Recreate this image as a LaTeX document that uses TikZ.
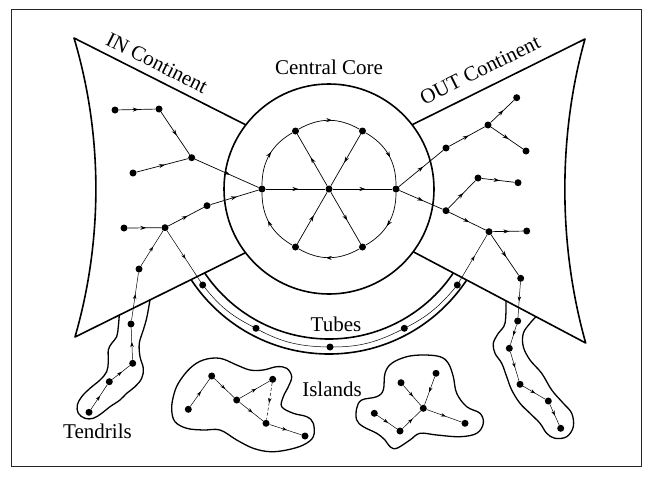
\documentclass[tikz,border=0pt]{standalone}
\usepackage{fontspec}
\setmainfont{Liberation Serif}
\usetikzlibrary{arrows.meta,decorations.markings}
\tikzset{
  dot/.style={circle, fill=black, inner sep=0pt, minimum size=7pt},
  lnk/.style={line width=0.7pt, postaction={decorate},
    decoration={markings, mark=at position 0.55 with {\arrow{Stealth[length=6pt,width=4pt]}}}},
  thinlnk/.style={line width=0.5pt, postaction={decorate},
    decoration={markings, mark=at position 0.55 with {\arrow{Stealth[length=5pt,width=3.5pt]}}}},
  plainln/.style={line width=0.5pt},
  wall/.style={line width=1.6pt, line join=round},
  blob/.style={line width=1.3pt},
  lbl/.style={font=\fontsize{21pt}{25pt}\selectfont, inner sep=0pt},
}
\begin{document}
\begin{tikzpicture}[x=1pt,y=-1pt]
\useasboundingbox (0,0) rectangle (650,479);
\draw[line width=0.9pt, black!85] (11,9) rectangle (641,466);

% bow-tie continents
\draw[wall] (250,127) -- (74,38) .. controls (103,135) and (103,240) .. (75,337) -- (250,250.5);
\draw[wall] (409,126.3) -- (585,39) .. controls (558,135) and (558,245) .. (585.7,343) -- (409,249.5);

% tubes
\begin{scope}
\clip (0,374) -- (250,250.5) -- (409,249.5) -- (650,377) -- (650,479) -- (0,479) -- cycle;
\draw[wall] (329,189) circle[radius=150];
\draw[wall] (329,189) circle[radius=165];
\end{scope}

% central core
\fill[white] (329,189) circle[radius=105];
\draw[wall] (329,189) circle[radius=105];

% tendrils
\draw[blob] plot[smooth, tension=0.6] coordinates {(119.3,315.1) (118.3,326.7) (116.7,336.7) (111.7,343.3) (108.3,350) (108.3,361.7) (106.7,371.7) (100,380) (90,388.3) (81.7,396.7) (77.3,405) (78.3,413.3) (85,418.3) (93.3,418.3) (101.7,413.3) (110,406.7) (120,400) (126.7,393.3) (135,386.7) (141.7,378.3) (143.3,368.3) (140,356.7) (139.3,343.3) (143.3,330) (146.7,318) (150,300)};
\draw[blob] plot[smooth, tension=0.6] coordinates {(506,300.8) (505,323.3) (498.3,333.3) (493.3,343.3) (495,353.3) (501.7,363.3) (506.7,376.7) (511.7,390) (520,403.3) (530,413.3) (540,423.3) (546.7,433.3) (555,438.3) (566.7,436.7) (573.3,426.7) (571.7,413.3) (563.3,403.3) (551.7,390) (541.7,373.3) (530,360) (523.3,346.7) (523.3,333.3) (530,323.3) (536,316.7)};

% islands
\draw[blob] plot[smooth cycle, tension=0.6] coordinates {(190,368.3) (203.3,360) (220,358.3) (236.7,365) (250,370) (263.3,370) (276.7,366.7) (286.7,368.3) (291.7,376.7) (288.3,386.7) (283.3,396.7) (281.7,406.7) (293.3,413.3) (306.7,416.7) (313.3,423.3) (313.3,436.7) (303.3,445) (286.7,450) (270,451.7) (253.3,448.3) (236.7,440) (220,430) (203.3,430) (186.7,428.3) (175,421.7) (171.7,410) (173.3,396.7) (178.3,383.3)};
\draw[blob] plot[smooth cycle, tension=0.6] coordinates {(356.7,408.3) (361.7,400) (376.7,396.7) (383.3,390) (385,373.3) (391.7,363.3) (406.7,356.7) (423.3,355) (440,356.7) (448.3,363.3) (453.3,376.7) (456.7,393.3) (466.7,406.7) (480,413.3) (483.3,423.3) (476.7,433.3) (460,436.7) (436.7,435) (420,433.3) (410,440) (396.7,448.3) (390,446.7) (385,440) (376.7,433.3) (363.3,426.7) (356.7,420)};

% core nodes
\node[dot] (cC) at (329,189) {};
\node[dot] (cL) at (262,189) {};
\node[dot] (cR) at (396,189) {};
\node[dot] (cTL) at (295.5,131) {};
\node[dot] (cTR) at (362.5,131) {};
\node[dot] (cBL) at (295.5,247) {};
\node[dot] (cBR) at (362.5,247) {};
\draw[lnk] (cL) to[bend left=30] (cTL);
\draw[lnk] (cTL) to[bend left=30] (cTR);
\draw[lnk] (cTR) to[bend left=30] (cR);
\draw[lnk] (cR) to[bend left=30] (cBR);
\draw[lnk] (cBR) to[bend left=30] (cBL);
\draw[lnk] (cBL) to[bend left=30] (cL);
\draw[lnk] (cL) -- (cC);
\draw[lnk] (cC) -- (cR);
\draw[lnk] (cC) -- (cTL);
\draw[lnk] (cTR) -- (cC);
\draw[lnk] (cBL) -- (cC);
\draw[lnk] (cC) -- (cBR);

% IN nodes
\node[dot] (n1) at (115,110) {};
\node[dot] (n2) at (159,109) {};
\node[dot] (n3) at (191.7,157.7) {};
\node[dot] (n4) at (133,173) {};
\node[dot] (n5) at (207,205.7) {};
\node[dot] (n6) at (124,228) {};
\node[dot] (n7) at (165,227.7) {};
\node[dot] (n8) at (139,269) {};
\node[dot] (n9) at (131,324) {};
\node[dot] (n10) at (132.7,363.3) {};
\node[dot] (n11) at (109.3,381.7) {};
\node[dot] (n12) at (89,412.3) {};
\draw[lnk] (n1) -- (n2);
\draw[lnk] (n2) -- (n3);
\draw[lnk] (n4) -- (n3);
\draw[lnk] (n3) -- (cL);
\draw[lnk] (n5) -- (cL);
\draw[lnk] (n7) -- (n5);
\draw[lnk] (n6) -- (n7);
\draw[thinlnk] (n8) -- (n7);
\draw[thinlnk] (n9) -- (n8);
\draw[thinlnk] (n10) -- (n9);
\draw[thinlnk] (n11) -- (n10);
\draw[thinlnk] (n12) -- (n11);

% OUT nodes
\node[dot] (o1) at (446,148) {};
\node[dot] (o2) at (488,125) {};
\node[dot] (o3) at (516.7,97.7) {};
\node[dot] (o4) at (526,151) {};
\node[dot] (o5) at (478,178) {};
\node[dot] (o6) at (518,182.7) {};
\node[dot] (o7) at (446,210.7) {};
\node[dot] (o8) at (489,231.7) {};
\node[dot] (o9) at (526.7,231) {};
\node[dot] (o10) at (520.7,278.3) {};
\node[dot] (o11) at (517.7,321) {};
\node[dot] (o12) at (509.3,348.3) {};
\node[dot] (o13) at (520,384.3) {};
\node[dot] (o14) at (548.3,401) {};
\node[dot] (o15) at (560.7,428.3) {};
\draw[lnk] (cR) -- (o1);
\draw[lnk] (o1) -- (o2);
\draw[lnk] (o2) -- (o3);
\draw[lnk] (o2) -- (o4);
\draw[lnk] (cR) -- (o7);
\draw[lnk] (o7) -- (o5);
\draw[lnk] (o5) -- (o6);
\draw[lnk] (o7) -- (o8);
\draw[lnk] (o8) -- (o9);
\draw[lnk] (o8) -- (o10);
\draw[thinlnk] (o10) -- (o11);
\draw[thinlnk] (o11) -- (o12);
\draw[thinlnk] (o12) -- (o13);
\draw[thinlnk] (o13) -- (o14);
\draw[thinlnk] (o14) -- (o15);

% tube nodes
\node[dot] (t1) at (202.7,285) {};
\node[dot] (t2) at (256,328.3) {};
\node[dot] (t3) at (330,347) {};
\node[dot] (t4) at (404.3,328.3) {};
\node[dot] (t5) at (457.3,285) {};
\draw[plainln] (t1) to[bend right=12] (t2) to[bend right=14] (t3) to[bend right=14] (t4) to[bend right=12] (t5);
\draw[thinlnk] (n7) -- (t1);
\draw[thinlnk] (t5) -- (o8);

% left island
\node[dot] (i1) at (188.3,409.3) {};
\node[dot] (i2) at (211.7,376) {};
\node[dot] (i3) at (236.7,400) {};
\node[dot] (i4) at (272.7,379.3) {};
\node[dot] (i5) at (266,423.3) {};
\node[dot] (i6) at (305,436) {};
\draw[thinlnk] (i1) -- (i2);
\draw[thinlnk] (i2) -- (i3);
\draw[thinlnk] (i3) -- (i4);
\draw[thinlnk, densely dashed] (i4) -- (i5);
\draw[thinlnk] (i3) -- (i5);
\draw[thinlnk] (i5) -- (i6);

% right island
\node[dot] (j1) at (374.3,413.3) {};
\node[dot] (j2) at (400,431) {};
\node[dot] (j3) at (423.3,408.3) {};
\node[dot] (j4) at (401,382.7) {};
\node[dot] (j5) at (436,373.3) {};
\node[dot] (j6) at (465,423.3) {};
\draw[thinlnk] (j1) -- (j2);
\draw[thinlnk] (j2) -- (j3);
\draw[thinlnk] (j4) -- (j3);
\draw[thinlnk] (j5) -- (j3);
\draw[thinlnk] (j3) -- (j6);

% labels
\node[lbl, rotate=-26.8] (lin) at (157,63) {IN Continent};
\node[lbl, rotate=26.4] (lout) at (480,70) {OUT Continent};
\node[lbl, anchor=base] (lcore) at (329,74) {Central Core};
\node[lbl, anchor=base] (ltube) at (336,331) {Tubes};
\node[lbl, anchor=base] (lisl) at (332,396) {Islands};
\node[lbl, anchor=base] (lten) at (97.5,438) {Tendrils};
\end{tikzpicture}
\end{document}
